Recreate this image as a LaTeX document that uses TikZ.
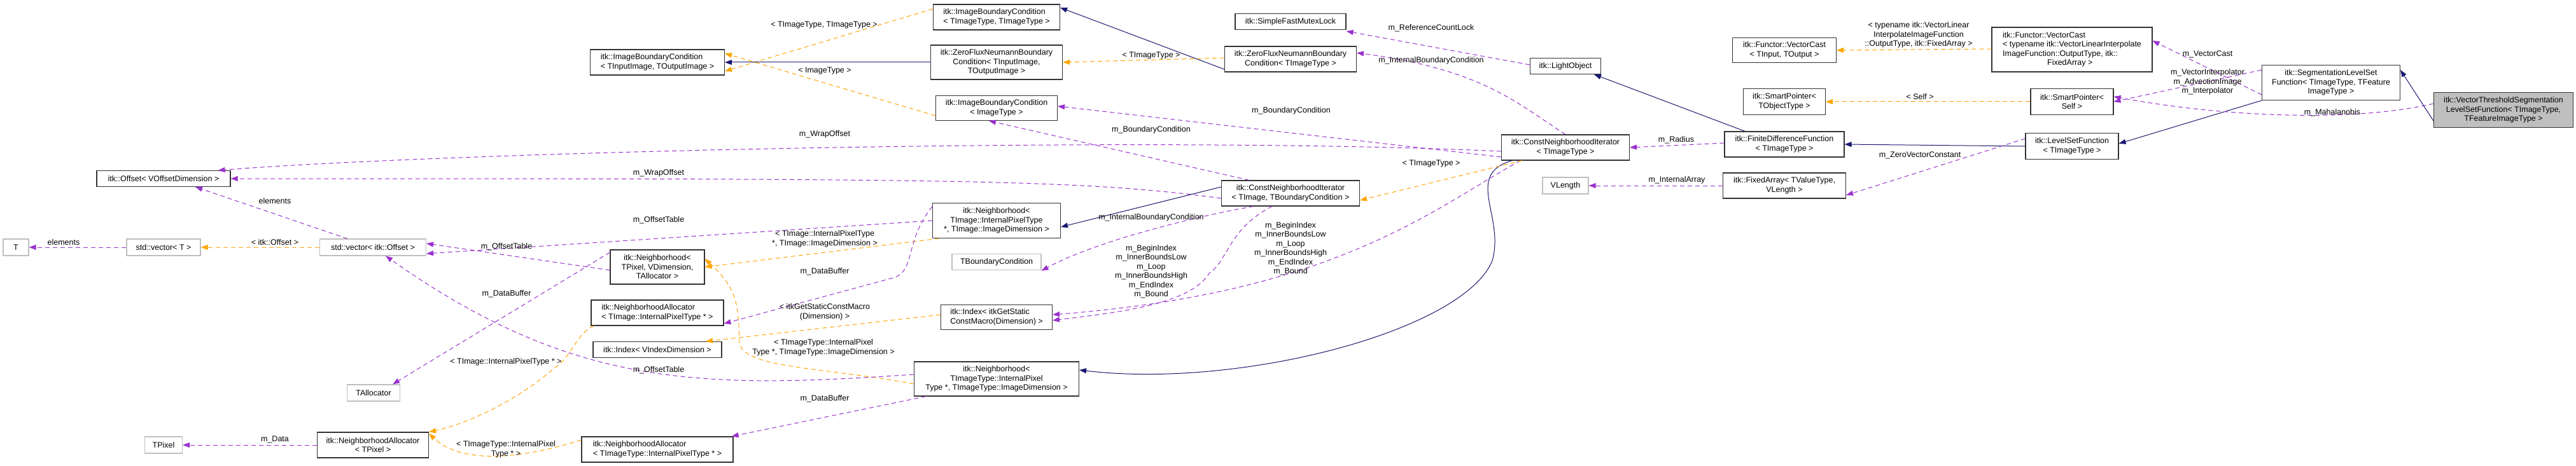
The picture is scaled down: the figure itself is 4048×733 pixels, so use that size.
\documentclass[tikz,border=0pt]{standalone}
\usepackage{fontspec}
\setmainfont{Liberation Sans}
\usetikzlibrary{arrows.meta}
\definecolor{purp}{HTML}{9A32CD}
\definecolor{orng}{HTML}{FFA500}
\definecolor{mblue}{HTML}{191970}
\begin{document}
\begin{tikzpicture}[x=1pt,y=-1pt,
  every node/.style={font=\fontsize{12.5}{14.5}\selectfont},
  box/.style={draw=black!80, line width=1.1pt, fill=white, inner sep=0pt, align=center},
  lbox/.style={box, align=left},
  gbox/.style={box, draw=black!25},
  lab/.style={inner sep=0pt, align=center},
  pu/.style={-{Triangle[length=11pt,width=8pt,fill=purp]}, draw=purp, line width=1pt, dash pattern=on 7pt off 5pt},
  og/.style={-{Triangle[length=11pt,width=8pt,fill=orng]}, draw=orng, line width=1pt, dash pattern=on 7pt off 5pt},
  bl/.style={-{Triangle[length=11pt,width=8pt,fill=mblue]}, draw=mblue, line width=1pt}]
\useasboundingbox (0,0) rectangle (4048,733);
\fill[white] (0,0) rectangle (4048,733);
% nodes
\node[box, minimum width=210, minimum height=25] (Offset) at (257,281) {itk::Offset< VOffsetDimension >};
\node[gbox, minimum width=40, minimum height=26] (T) at (25,389) {T};
\node[gbox, minimum width=116, minimum height=26] (vecT) at (257,389) {std::vector< T >};
\node[gbox, minimum width=167, minimum height=26] (vecOff) at (586,389) {std::vector< itk::Offset >};
\node[gbox, minimum width=59, minimum height=26] (TPixel) at (257,700) {TPixel};
\node[box, minimum width=175, minimum height=40] (NApix) at (586,700) {itk::NeighborhoodAllocator\\< TPixel >};
\node[gbox, minimum width=83, minimum height=26] (TAlloc) at (587,618) {TAllocator};
\node[lbox, minimum width=211, minimum height=40] (IBCio) at (1033,98) {itk::ImageBoundaryCondition\\< TInputImage, TOutputImage >};
\node[box, minimum width=148, minimum height=54] (Npix) at (1033,420) {itk::Neighborhood<\\TPixel, VDimension,\\TAllocator >};
\node[lbox, minimum width=208, minimum height=40] (NAimg) at (1033,492) {itk::NeighborhoodAllocator\\< TImage::InternalPixelType * >};
\node[box, minimum width=202, minimum height=25] (IdxV) at (1033,550) {itk::Index< VIndexDimension >};
\node[lbox, minimum width=238, minimum height=40] (NAtype) at (1033,707) {itk::NeighborhoodAllocator\\< TImageType::InternalPixelType * >};
\node[lbox, minimum width=199, minimum height=40] (IBCtt) at (1566,27) {itk::ImageBoundaryCondition\\< TImageType, TImageType >};
\node[box, minimum width=207, minimum height=54] (ZFNio) at (1566,98) {itk::ZeroFluxNeumannBoundary\\Condition< TInputImage,\\TOutputImage >};
\node[box, minimum width=191, minimum height=39] (IBCimg) at (1566,170) {itk::ImageBoundaryCondition\\< ImageType >};
\node[box, minimum width=201, minimum height=55] (Nimg) at (1566,347) {itk::Neighborhood<\\TImage::InternalPixelType\\*, TImage::ImageDimension >};
\node[gbox, minimum width=140, minimum height=25] (TBC) at (1566,412) {TBoundaryCondition};
\node[lbox, minimum width=175, minimum height=39] (Idxitk) at (1566,499) {itk::Index< itkGetStatic\\ConstMacro(Dimension) >};
\node[box, minimum width=259, minimum height=54] (Ntype) at (1566,596) {itk::Neighborhood<\\TImageType::InternalPixel\\Type *, TImageType::ImageDimension >};
\node[box, minimum width=174, minimum height=25] (SFML) at (2028,34) {itk::SimpleFastMutexLock};
\node[box, minimum width=207, minimum height=40] (ZFNt) at (2028,93) {itk::ZeroFluxNeumannBoundary\\Condition< TImageType >};
\node[box, minimum width=217, minimum height=40] (CNItbc) at (2028,304) {itk::ConstNeighborhoodIterator\\< TImage, TBoundaryCondition >};
\node[box, minimum width=111, minimum height=25] (LO) at (2460,104) {itk::LightObject};
\node[box, minimum width=201, minimum height=40] (CNIt) at (2460,232) {itk::ConstNeighborhoodIterator\\< TImageType >};
\node[gbox, minimum width=72, minimum height=26] (VLen) at (2460,292) {VLength};
\node[box, minimum width=163, minimum height=39] (VCt) at (2804,79) {itk::Functor::VectorCast\\< TInput, TOutput >};
\node[box, minimum width=129, minimum height=41] (SPt) at (2804,160) {itk::SmartPointer<\\TObjectType >};
\node[box, minimum width=188, minimum height=40] (FDF) at (2804,227) {itk::FiniteDifferenceFunction\\< TImageType >};
\node[box, minimum width=193, minimum height=40] (FA) at (2804,292) {itk::FixedArray< TValueType,\\VLength >};
\node[lbox, minimum width=252, minimum height=70] (VC) at (3256,78) {itk::Functor::VectorCast\\< typename itk::VectorLinearInterpolate\\ImageFunction::OutputType, itk::\\\hspace*{70pt}FixedArray >};
\node[box, minimum width=130, minimum height=41] (SPs) at (3256,160) {itk::SmartPointer<\\Self >};
\node[box, minimum width=146, minimum height=41] (LSF) at (3256,230) {itk::LevelSetFunction\\< TImageType >};
\node[box, minimum width=217, minimum height=55] (SLSF) at (3663,130) {itk::SegmentationLevelSet\\Function< TImageType, TFeature\\ImageType >};
\node[box, fill=black!25, minimum width=219, minimum height=55] (VT) at (3934,173) {itk::VectorThresholdSegmentation\\LevelSetFunction< TImageType,\\TFeatureImageType >};
% edges
\draw[pu] (vecT.west) -- (T.east);
\node[lab] (l1) at (100,381) {elements};
\draw[og] (vecOff.west) -- (vecT.east);
\node[lab] (l2) at (432,381) {< itk::Offset >};
\draw[pu] ([xshift=-40]vecOff.north) -- ([xshift=50]Offset.south);
\node[lab] (l3) at (432,316) {elements};
\draw[pu] ([yshift=-6]CNIt.west) .. controls (1800,212) and (700,240) .. ([xshift=-20]Offset.north east);
\node[lab] (l4) at (1296,211) {m\_WrapOffset};
\draw[pu] ([yshift=-8]CNItbc.west) .. controls (1700,282) and (1500,281) .. (Offset.east);
\node[lab] (l5) at (1035,272) {m\_WrapOffset};
\draw[pu] ([xshift=-65]CNItbc.north) -- ([xshift=84]IBCimg.south west);
\node[lab] (l6) at (1809,204) {m\_BoundaryCondition};
\draw[pu] ([yshift=-15]CNIt.west) -- ([yshift=3]IBCimg.east);
\node[lab] (l7) at (2029,174) {m\_BoundaryCondition};
\draw[bl] ([yshift=10]CNItbc.west) -- ([yshift=-10]Nimg.east);
\draw[pu] ([xshift=-58]CNItbc.south) .. controls (1880,340) and (1720,380) .. ([yshift=-14]TBC.east);
\node[lab] (l8) at (1809,342) {m\_InternalBoundaryCondition};
\draw[pu] ([xshift=-29]CNItbc.south) .. controls (1930,360) and (1930,410) .. (1900,430) .. controls (1870,480) and (1750,492) .. ([yshift=-5]Idxitk.east);
\node[lab] (l9) at (1809,427) {m\_BeginIndex\\m\_InnerBoundsLow\\m\_Loop\\m\_InnerBoundsHigh\\m\_EndIndex\\m\_Bound};
\draw[pu] ([xshift=-71]CNIt.south) .. controls (2250,330) and (2100,460) .. ([yshift=4]Idxitk.east);
\node[lab] (l10) at (2028,391) {m\_BeginIndex\\m\_InnerBoundsLow\\m\_Loop\\m\_InnerBoundsHigh\\m\_EndIndex\\m\_Bound};
\draw[bl] ([xshift=-84]CNIt.south) .. controls (2300,275) and (2365,340) .. (2345,410) .. controls (2300,520) and (1950,612) .. ([yshift=14]Ntype.east);
\draw[og] ([xshift=-68]CNIt.south) -- ([yshift=-11]CNItbc.east);
\node[lab] (l11) at (2249,257) {< TImageType >};
\draw[pu] (CNIt.north) .. controls (2380,160) and (2330,110) .. ([yshift=10]ZFNt.east);
\node[lab] (l12) at (2249,95) {m\_InternalBoundaryCondition};
\draw[pu] ([yshift=-11]LO.north west) -- ([yshift=-2]SFML.south east);
\node[lab] (l13) at (2249,44) {m\_ReferenceCountLock};
\draw[bl] ([xshift=-62]FDF.north) -- ([xshift=45]LO.south);
\draw[pu] ([yshift=2]FDF.west) -- (CNIt.east);
\node[lab] (l14) at (2634,220) {m\_Radius};
\draw[pu] (FA.west) -- (VLen.east);
\node[lab] (l15) at (2635,283) {m\_InternalArray};
\draw[bl] (LSF.west) -- (FDF.east);
\draw[pu] ([yshift=12]LSF.west) -- ([yshift=-15]FA.east);
\node[lab] (l16) at (3017,244) {m\_ZeroVectorConstant};
\draw[bl] (SLSF.south west) -- ([yshift=-17]LSF.north east);
\draw[pu] ([yshift=-19]SLSF.west) -- ([yshift=14]VC.east);
\node[lab] (l17) at (3469,85) {m\_VectorCast};
\draw[pu] ([yshift=20]SLSF.west) -- (SPs.east);
\node[lab] (l18) at (3469,129) {m\_VectorInterpolator\\m\_AdvectionImage\\m\_Interpolator};
\draw[pu] ([yshift=10]VT.west) .. controls (3700,192) and (3500,185) .. ([yshift=8]SPs.east);
\node[lab] (l19) at (3665,177) {m\_Mahalanobis};
\draw[bl] ([yshift=-17]VT.west) -- ([yshift=20]SLSF.east);
\draw[og] (SPs.west) -- (SPt.east);
\node[lab] (l20) at (3017,152) {< Self >};
\draw[og] ([yshift=1]VC.west) -- (VCt.east);
\node[lab] (l21) at (3015,55) {< typename itk::VectorLinear\\InterpolateImageFunction\\::OutputType, itk::FixedArray >};
\draw[bl] ([yshift=-16]ZFNt.west) -- ([yshift=15]IBCtt.east);
\draw[og] ([yshift=2]ZFNt.west) -- (ZFNio.east);
\node[lab] (l22) at (1809,87) {< TImageType >};
\draw[og] ([yshift=13]IBCtt.west) -- ([yshift=-14]IBCio.east);
\node[lab] (l23) at (1295,39) {< TImageType, TImageType >};
\draw[bl] (ZFNio.west) -- (IBCio.east);
\draw[og] ([yshift=-12]IBCimg.west) -- ([yshift=14]IBCio.east);
\node[lab] (l24) at (1296,111) {< ImageType >};
\draw[og] ([xshift=-90]Nimg.south) -- (Npix.east);
\node[lab] (l25) at (1296,376) {< TImage::InternalPixelType\\*, TImage::ImageDimension >};
\draw[pu] (Nimg.west) -- ([yshift=-10]vecOff.east);
\node[lab] (l26) at (1035,346) {m\_OffsetTable};
\draw[pu] ([yshift=22]Nimg.west) .. controls (1420,380) and (1440,430) .. (1400,438) -- ([yshift=-17]NAimg.east);
\node[lab] (l27) at (1296,427) {m\_DataBuffer};
\draw[pu] ([yshift=-5]Npix.west) -- ([yshift=6]vecOff.east);
\node[lab] (l28) at (796,388) {m\_OffsetTable};
\draw[pu] ([yshift=23]Npix.west) -- ([xshift=30]TAlloc.north);
\node[lab] (l29) at (796,462) {m\_DataBuffer};
\draw[og] ([xshift=-100]NAimg.south) .. controls (905,525) and (900,560) .. (870,580) .. controls (800,640) and (720,670) .. (NApix.north east);
\node[lab] (l30) at (795,569) {< TImage::InternalPixelType * >};
\draw[og] ([yshift=4]Idxitk.west) -- ([xshift=76]IdxV.north);
\node[lab] (l31) at (1296,491) {< itkGetStaticConstMacro\\(Dimension) >};
\draw[og] ([yshift=-8]Ntype.west) .. controls (1300,578) and (1170,580) .. (1162,540) .. controls (1160,480) and (1160,455) .. ([yshift=13]Npix.east);
\node[lab] (l32) at (1294,547) {< TImageType::InternalPixel\\Type *, TImageType::ImageDimension >};
\draw[pu] ([yshift=7]Ntype.west) .. controls (1100,612) and (900,610) .. ([xshift=20]vecOff.south);
\node[lab] (l33) at (1035,582) {m\_OffsetTable};
\draw[pu] ([xshift=-111]Ntype.south) -- ([xshift=-3]NAtype.north east);
\node[lab] (l34) at (1296,627) {m\_DataBuffer};
\draw[og] ([yshift=15]NAtype.west) .. controls (800,728) and (720,725) .. ([yshift=18]NApix.east);
\node[lab] (l35) at (795,707) {< TImageType::InternalPixel\\Type * >};
\draw[pu] (NApix.west) -- (TPixel.east);
\node[lab] (l36) at (432,691) {m\_Data};
\end{tikzpicture}
\end{document}
